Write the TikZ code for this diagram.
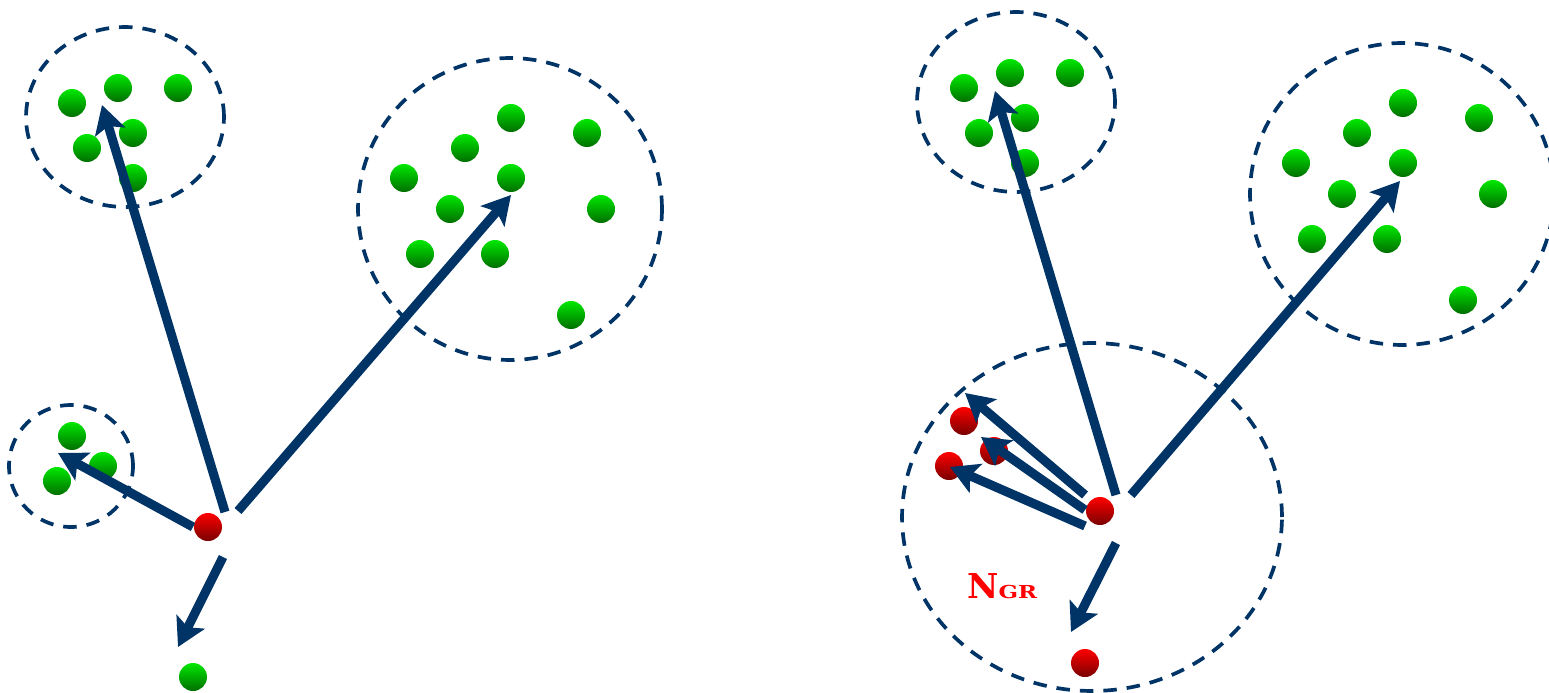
\documentclass[tikz,border=0pt]{standalone}
\usepackage{fontspec}
\newfontfamily\labelfont{DejaVu Serif}
\usepackage{tikz}
\usetikzlibrary{shapes.geometric,arrows.meta}
\definecolor{NavyLine}{HTML}{003366}
\definecolor{BallGreen}{HTML}{00E800}
\definecolor{BallGreenDark}{HTML}{006E00}
\definecolor{BallRed}{HTML}{FF0000}
\definecolor{BallRedDark}{HTML}{780000}

\begin{document}
\begin{tikzpicture}[
      x=0.02cm, y=-0.02cm,
      gball/.style={circle, inner sep=0pt, minimum size=0.56cm,
                    top color=BallGreen, bottom color=BallGreenDark},
      rball/.style={circle, inner sep=0pt, minimum size=0.56cm,
                    top color=BallRed, bottom color=BallRedDark},
      zone/.style={ellipse, draw=NavyLine, line width=2.1pt,
                   dash pattern=on 0.27cm off 0.2cm, inner sep=0pt},
      arr/.style={-{Stealth[length=0.56cm, width=0.62cm, inset=0.12cm]},
                  line width=5.2pt, draw=NavyLine},
    ]
      \useasboundingbox (0,0) rectangle (1549,693);
      \clip (0,0) rectangle (1549,693);

      % left panel: neighbourhoods
      \node[zone, minimum width=3.96cm, minimum height=3.6cm]  (zoneA) at (125,117) {};
      \node[zone, minimum width=6.08cm, minimum height=6.04cm] (zoneB) at (510,209) {};
      \node[zone, minimum width=2.48cm, minimum height=2.44cm] (zoneC) at (71,466) {};

      \foreach \n/\p in {1/{72,103}, 2/{118,88}, 3/{178,88}, 4/{133,133},
                         5/{87,148}, 6/{133,178}}
        \node[gball] (a\n) at (\p) {};
      \foreach \n/\p in {1/{511,118}, 2/{587,133}, 3/{465,148}, 4/{404,178},
                         5/{511,178}, 6/{450,209}, 7/{601,209}, 8/{420,254},
                         9/{495,254}, 10/{571,315}}
        \node[gball] (b\n) at (\p) {};
      \foreach \n/\p in {1/{72,436}, 2/{103,466}, 3/{57,481}}
        \node[gball] (c\n) at (\p) {};
      \node[gball] (lone) at (193,677) {};
      \node[rball] (src) at (208,527) {};

      \coordinate (srcC) at (193,527);  \coordinate (tipC) at (58,453);
      \coordinate (srcA) at (225,512);  \coordinate (tipA) at (102,105);
      \coordinate (srcB) at (238,511);  \coordinate (tipB) at (511,195);
      \coordinate (srcL) at (223,557);  \coordinate (tipL) at (178,647);

      \draw[arr] (srcC) -- (tipC);
      \draw[arr] (srcA) -- (tipA);
      \draw[arr] (srcB) -- (tipB);
      \draw[arr] (srcL) -- (tipL);

      % right panel: with the group radius
      \node[zone, minimum width=3.96cm, minimum height=3.6cm]  (zoneA2) at (1016,102) {};
      \node[zone, minimum width=6.08cm, minimum height=6.04cm] (zoneB2) at (1402,194) {};
      \node[zone, minimum width=7.6cm, minimum height=6.96cm]  (zoneN)  at (1092,517) {};

      \foreach \n/\p in {1/{964,88}, 2/{1010,73}, 3/{1070,73}, 4/{1025,118},
                         5/{979,133}, 6/{1025,163}}
        \node[gball] (aa\n) at (\p) {};
      \foreach \n/\p in {1/{1403,103}, 2/{1479,118}, 3/{1357,133}, 4/{1296,163},
                         5/{1403,163}, 6/{1342,194}, 7/{1493,194}, 8/{1312,239},
                         9/{1387,239}, 10/{1463,300}}
        \node[gball] (bb\n) at (\p) {};
      \node[rball] (src2) at (1100,511) {};
      \node[rball] (n1) at (964,421) {};
      \node[rball] (n2) at (994,451) {};
      \node[rball] (n3) at (949,466) {};
      \node[rball] (n4) at (1085,663) {};

      \node[anchor=base west, text=red, inner sep=0pt] (ngr) at (967,598)
           {\labelfont\bfseries\fontsize{19.5pt}{20pt}\selectfont N%
            \scalebox{1}[0.78]{\fontsize{13pt}{13pt}\selectfont GR}};

      \coordinate (srcA2) at (1116,495); \coordinate (tipA2) at (995,91);
      \coordinate (srcB2) at (1131,495); \coordinate (tipB2) at (1400,181);
      \coordinate (srcN1) at (1085,495); \coordinate (tipN1) at (965,393);
      \coordinate (srcN2) at (1085,510); \coordinate (tipN2) at (981,437);
      \coordinate (srcN3) at (1085,526); \coordinate (tipN3) at (950,467);
      \coordinate (srcN4) at (1116,543); \coordinate (tipN4) at (1071,632);

      \draw[arr] (srcA2) -- (tipA2);
      \draw[arr] (srcB2) -- (tipB2);
      \draw[arr] (srcN1) -- (tipN1);
      \draw[arr] (srcN2) -- (tipN2);
      \draw[arr] (srcN3) -- (tipN3);
      \draw[arr] (srcN4) -- (tipN4);
    \end{tikzpicture}
\end{document}
